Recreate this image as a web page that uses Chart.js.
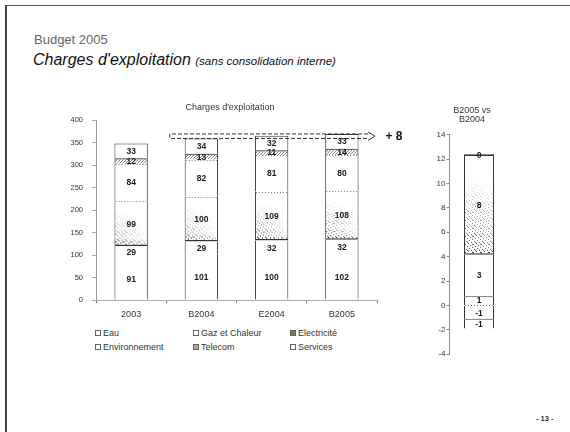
<!DOCTYPE html>
<html><head><meta charset="utf-8">
<script src="https://cdn.jsdelivr.net/npm/chart.js@4.4.1/dist/chart.umd.min.js"></script>
<style>
html,body{margin:0;padding:0;background:#fff;width:570px;height:432px;overflow:hidden;font-family:"Liberation Sans",Arial,sans-serif;}
#frame{position:absolute;left:5px;top:5px;width:600px;height:460px;border-top:1px solid #555;border-left:2px solid #444;}
.t{position:absolute;white-space:nowrap;line-height:1;}
#t1{left:34px;top:33px;font-size:13px;color:#666;}
#t2{left:33px;top:51.5px;font-size:16px;font-style:italic;color:#111;}
#t2 span{font-size:11.5px;}
#c1wrap{position:absolute;left:50px;top:100px;width:360px;height:225px;}
#c2wrap{position:absolute;left:420px;top:100px;width:104px;height:260px;}
#legend{position:absolute;left:95px;top:325.6px;display:grid;grid-template-columns:98px 97px 100px;font-size:9px;color:#333;}
#legend div{height:14.7px;line-height:14.7px;white-space:nowrap;}
#legend i{display:inline-block;width:4px;height:4px;border:1px solid #666;margin-right:2px;vertical-align:0px;}
#page{left:536px;top:415px;font-size:7.5px;font-weight:bold;color:#333;}
</style></head>
<body>
<div id="frame"></div>
<div class="t" id="t1">Budget 2005</div>
<div class="t" id="t2">Charges d'exploitation <span>(sans consolidation interne)</span></div>
<div id="c1wrap"><canvas id="c1"></canvas></div>
<div id="c2wrap"><canvas id="c2"></canvas></div>
<div id="legend"></div>
<div class="t" id="page">- 13 -</div>
<script>
// ---- data ----
const categories = ['2003', 'B2004', 'E2004', 'B2005'];
const seriesNames = ['Eau', 'Gaz et Chaleur', 'Electricité', 'Environnement', 'Telecom', 'Services'];
const eau = [91, 101, 100, 102];
const gaz = [29, 29, 32, 32];
const electricite = [99, 100, 109, 108];
const environnement = [84, 82, 81, 80];
const telecom = [12, 13, 11, 14];
const services = [33, 34, 32, 33];
const mainTitle = "Charges d'exploitation";
const mainTicks = {min: 0, max: 400, step: 50};
const deltaFrom = 'B2004';
const deltaTo = 'B2005';
const deltaText = '+ 8';

const deltaTitle = ['B2005 vs', 'B2004'];
const deltaCategory = ['B2005 vs B2004'];
const deltaValues = [0.76, 3.39, 8.11, -1.17, 0.14, -0.73]; // same order as seriesNames
const deltaTicks = {min: -4, max: 14, step: 2};

// ---- styling helpers ----
function makeTile(color, pts, size) {
  const c = document.createElement('canvas');
  c.width = c.height = size;
  const g = c.getContext('2d');
  g.fillStyle = color;
  pts.forEach(([a, b]) => g.fillRect(a, b, 1, 1));
  return c;
}
const darkTile = makeTile('#3a3a3a', [[0,0],[5,1],[2,2],[7,3],[4,4],[1,5],[6,6],[3,7],[7,0],[2,6]], 8);
const lightTile = makeTile('#8a8a8a', [[0,0],[2,1],[1,2]], 3);
const lightPattern = lightTile.getContext('2d').createPattern(lightTile, 'repeat');

function maskedDots(ctx, x0, y0, w, h, maskFn) {
  if (w < 1 || h < 1) return;
  const off = document.createElement('canvas');
  off.width = Math.ceil(w); off.height = Math.ceil(h);
  const o = off.getContext('2d');
  o.fillStyle = o.createPattern(darkTile, 'repeat');
  o.fillRect(0, 0, w, h);
  o.globalCompositeOperation = 'destination-in';
  o.fillStyle = maskFn(o, w, h);
  o.fillRect(0, 0, w, h);
  ctx.drawImage(off, x0, y0);
}

const stipple = {
  id: 'stipple',
  afterDatasetDraw(chart, args, opts) {
    const ds = chart.data.datasets[args.index];
    const ctx = chart.ctx;
    args.meta.data.forEach(el => {
      const p = el.getProps(['x', 'y', 'base', 'width'], true);
      const x0 = p.x - p.width / 2 + 1, w = p.width - 2;
      const top = Math.min(p.y, p.base), bot = Math.max(p.y, p.base);
      const h = bot - top - 1.5;
      if (ds.stippleStrong) {
        maskedDots(ctx, x0, top, w, h, (o, W, H) => {
          const r = Math.max(W * 0.9, H * 0.8);
          const g = o.createRadialGradient(0, H, 0, 0, H, r);
          g.addColorStop(0, 'rgba(0,0,0,1)');
          g.addColorStop(0.35, 'rgba(0,0,0,0.6)');
          g.addColorStop(1, 'rgba(0,0,0,0)');
          return g;
        });
        maskedDots(ctx, x0, top, w, h, (o, W, H) => {
          const g = o.createLinearGradient(0, H, 0, H - 5);
          g.addColorStop(0, 'rgba(0,0,0,1)');
          g.addColorStop(1, 'rgba(0,0,0,0)');
          return g;
        });
      }
    });
    // dotted separator lines
    if (ds.dottedTop || ds.dottedBase) {
      ctx.save();
      ctx.strokeStyle = '#777';
      ctx.lineWidth = 1;
      ctx.setLineDash([1, 2]);
      args.meta.data.forEach(el => {
        const p = el.getProps(['x', 'y', 'base', 'width'], true);
        const yy = ds.dottedTop ? p.y : p.base;
        ctx.beginPath();
        ctx.moveTo(p.x - p.width / 2 + 1, Math.round(yy) + 0.5);
        ctx.lineTo(p.x + p.width / 2 - 1, Math.round(yy) + 0.5);
        ctx.stroke();
      });
      ctx.restore();
    }
  }
};

const valueLabels = {
  id: 'valueLabels',
  afterDatasetsDraw(chart, args, opts) {
    const ctx = chart.ctx;
    ctx.save();
    ctx.font = opts.font;
    ctx.fillStyle = opts.color;
    ctx.textAlign = 'center';
    ctx.textBaseline = 'middle';
    chart.data.datasets.forEach((ds, i) => {
      const meta = chart.getDatasetMeta(i);
      meta.data.forEach((el, j) => {
        const p = el.getProps(['x', 'y', 'base'], true);
        ctx.fillText(String(Math.round(ds.data[j])), p.x, (p.y + p.base) / 2 + 0.5);
      });
    });
    ctx.restore();
  }
};

const mainSeries = [eau, gaz, electricite, environnement, telecom, services];
function totalAt(idx) { return mainSeries.reduce((s, arr) => s + arr[idx], 0); }

const deltaArrow = {
  id: 'deltaArrow',
  afterDatasetsDraw(chart, args, opts) {
    const {ctx, chartArea, scales: {x, y}} = chart;
    const fi = categories.indexOf(deltaFrom), ti = categories.indexOf(deltaTo);
    const yLow = y.getPixelForValue(totalAt(fi));
    const yHigh = y.getPixelForValue(totalAt(ti));
    const halfCat = (x.getPixelForValue(1) - x.getPixelForValue(0)) / 2;
    const left = x.getPixelForValue(fi) - halfCat * 0.9;
    const tip = chartArea.right - 2;
    const bodyR = tip - 7;
    const mid = (yLow + yHigh) / 2;
    ctx.save();
    ctx.strokeStyle = '#333';
    ctx.lineWidth = 1;
    ctx.setLineDash([4, 2]);
    ctx.beginPath();
    ctx.moveTo(bodyR, yHigh); ctx.lineTo(left, yHigh); ctx.lineTo(left, yLow); ctx.lineTo(bodyR, yLow);
    ctx.stroke();
    ctx.setLineDash([]);
    ctx.beginPath();
    ctx.moveTo(bodyR, yHigh - 2); ctx.lineTo(tip, mid); ctx.lineTo(bodyR, yLow + 2);
    ctx.stroke();
    ctx.font = 'bold 12px "Liberation Sans", Arial, sans-serif';
    ctx.fillStyle = '#111';
    ctx.textAlign = 'center';
    ctx.textBaseline = 'middle';
    ctx.fillText(deltaText, chartArea.right + 17, mid);
    ctx.restore();
  }
};

const FONT = '"Liberation Sans", Arial, sans-serif';
Chart.defaults.font.family = FONT;
const BORDER = '#333';

// ---- main chart ----
const mainBorders = [
  {top: 0, bottom: 0, left: 1, right: 1},
  {top: 0, bottom: 0, left: 1, right: 1},
  {top: 0, bottom: 1.5, left: 1, right: 1},
  {top: 0, bottom: 0, left: 1, right: 1},
  {top: 1, bottom: 0, left: 1, right: 1},
  {top: 1, bottom: 0, left: 1, right: 1}
];
const mainBg = ['#fff', '#fff', '#fff', '#fff', lightPattern, '#fff'];

new Chart(document.getElementById('c1'), {
  type: 'bar',
  data: {
    labels: categories,
    datasets: mainSeries.map((arr, i) => ({
      label: seriesNames[i],
      data: arr,
      backgroundColor: mainBg[i],
      borderColor: BORDER,
      borderWidth: mainBorders[i],
      borderSkipped: false,
      categoryPercentage: 1,
      barPercentage: 0.475,
      stippleStrong: i === 2,
      dottedTop: i === 2 || i === 3
    }))
  },
  options: {
    responsive: true,
    maintainAspectRatio: false,
    animation: false,
    layout: {padding: 0},
    plugins: {
      legend: {display: false},
      tooltip: {enabled: false},
      title: {display: true, text: mainTitle, color: '#333', font: {size: 9, weight: 'normal'}, padding: {top: 2.6, bottom: 6.6}},
      valueLabels: {font: 'bold 8.5px ' + FONT, color: '#1a1a1a'}
    },
    scales: {
      x: {
        stacked: true,
        ticks: {font: {size: 9}, color: '#333', padding: 6},
        grid: {offset: true, drawOnChartArea: false, tickLength: 3, color: '#777'},
        border: {color: '#aaa', dash: [2, 2]},
        afterFit(s) { s.height = 25; }
      },
      y: {
        stacked: true,
        min: mainTicks.min, max: mainTicks.max,
        ticks: {stepSize: mainTicks.step, font: {size: 7.5}, color: '#333', padding: 9},
        grid: {drawOnChartArea: false, tickLength: 4, color: '#aaa'},
        border: {color: '#999', dash: [3, 1]},
        afterFit(s) { s.width = 46; }
      },
      yPad: {
        position: 'right', display: true,
        ticks: {display: false}, grid: {display: false}, border: {display: false},
        afterFit(s) { s.width = 33; }
      }
    }
  },
  plugins: [stipple, deltaArrow, valueLabels]
});

// ---- delta chart ----
const deltaBorders = [
  {top: 1, bottom: 0, left: 1, right: 1},
  {top: 0, bottom: 0, left: 1, right: 1},
  {top: 0, bottom: 1.5, left: 1, right: 1},
  {top: 0, bottom: 1, left: 1, right: 1},
  {top: 1.5, bottom: 1, left: 1, right: 1},
  {top: 0, bottom: 0, left: 1, right: 1}
];
new Chart(document.getElementById('c2'), {
  type: 'bar',
  data: {
    labels: deltaCategory,
    datasets: deltaValues.map((v, i) => ({
      label: seriesNames[i],
      data: [v],
      backgroundColor: i === 4 ? lightPattern : '#fff',
      borderColor: BORDER,
      borderWidth: deltaBorders[i],
      borderSkipped: false,
      categoryPercentage: 1,
      barPercentage: 0.5,
      stippleStrong: i === 2,
      dottedBase: i === 0
    }))
  },
  options: {
    responsive: true,
    maintainAspectRatio: false,
    animation: false,
    layout: {padding: {bottom: 5}},
    plugins: {
      legend: {display: false},
      tooltip: {enabled: false},
      title: {display: true, text: deltaTitle, color: '#333', font: {size: 9, weight: 'normal', lineHeight: 1}, padding: {top: 6.5, bottom: 10.2}},
      valueLabels: {font: 'bold 8.5px ' + FONT, color: '#1a1a1a'}
    },
    scales: {
      x: {stacked: true, display: false},
      y: {
        stacked: true,
        min: deltaTicks.min, max: deltaTicks.max,
        ticks: {stepSize: deltaTicks.step, font: {size: 8}, color: '#333', padding: 1},
        grid: {drawOnChartArea: false, tickLength: 2.5, color: '#888'},
        border: {color: '#888', dash: [4, 2, 1, 2]},
        afterFit(s) { s.width = 29; }
      },
      yPad: {
        position: 'right', display: true,
        ticks: {display: false}, grid: {display: false}, border: {display: false},
        afterFit(s) { s.width = 15; }
      }
    }
  },
  plugins: [stipple, valueLabels]
});

// ---- legend (HTML) ----
const legendFill = ['#fff', '#fff', '#777', '#fff', '#aaa', '#fff'];
const leg = document.getElementById('legend');
seriesNames.forEach((n, i) => {
  const d = document.createElement('div');
  const b = document.createElement('i');
  b.style.background = legendFill[i];
  d.appendChild(b);
  d.appendChild(document.createTextNode(n));
  leg.appendChild(d);
});
</script>
</body></html>
